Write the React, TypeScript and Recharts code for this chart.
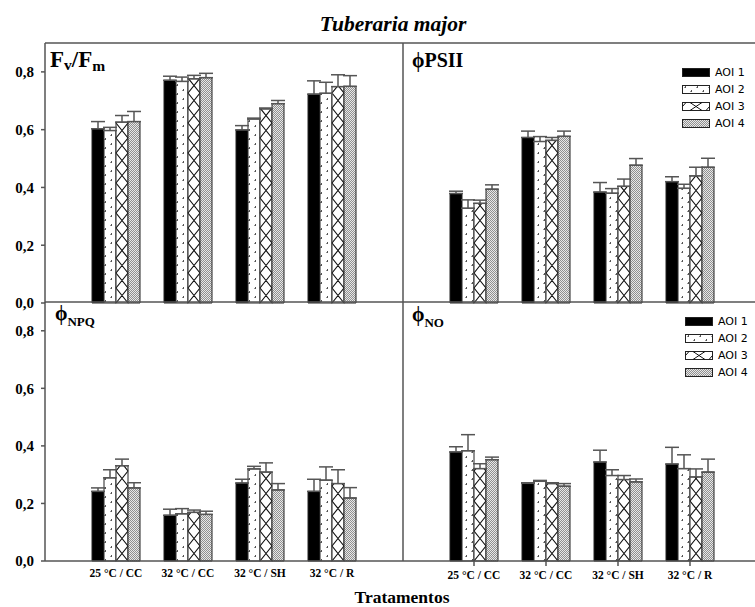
import { Bar, BarChart, ErrorBar, Legend, XAxis, YAxis } from 'recharts';

const SERIF = '"Liberation Serif", "Times New Roman", serif';
const SANS = '"DejaVu Sans", Tahoma, sans-serif';
const LINE = '#555';

const categories = ['25 °C / CC', '32 °C / CC', '32 °C / SH', '32 °C / R'];
const seriesNames = ['AOI 1', 'AOI 2', 'AOI 3', 'AOI 4'];
const yTicks = [0, 0.2, 0.4, 0.6, 0.8];

// rows = AOI 1..4, columns = treatments
const fvfmMeans = [
  [0.603, 0.771, 0.599, 0.723],
  [0.597, 0.767, 0.637, 0.726],
  [0.626, 0.776, 0.672, 0.749],
  [0.628, 0.78, 0.69, 0.75],
];
const fvfmErrors = [
  [0.025, 0.014, 0.015, 0.046],
  [0.011, 0.015, 0.003, 0.038],
  [0.023, 0.012, 0.003, 0.041],
  [0.035, 0.015, 0.011, 0.037],
];

const psiiMeans = [
  [0.379, 0.573, 0.384, 0.42],
  [0.328, 0.559, 0.38, 0.397],
  [0.345, 0.563, 0.404, 0.44],
  [0.394, 0.577, 0.477, 0.47],
];
const psiiErrors = [
  [0.008, 0.022, 0.033, 0.017],
  [0.029, 0.017, 0.016, 0.014],
  [0.011, 0.01, 0.025, 0.03],
  [0.015, 0.018, 0.023, 0.031],
];

const npqMeans = [
  [0.242, 0.159, 0.271, 0.242],
  [0.289, 0.164, 0.32, 0.281],
  [0.331, 0.169, 0.309, 0.269],
  [0.254, 0.162, 0.247, 0.219],
];
const npqErrors = [
  [0.012, 0.021, 0.013, 0.042],
  [0.028, 0.018, 0.009, 0.046],
  [0.023, 0.008, 0.032, 0.048],
  [0.018, 0.011, 0.022, 0.036],
];

const noMeans = [
  [0.379, 0.27, 0.344, 0.337],
  [0.383, 0.277, 0.297, 0.321],
  [0.321, 0.269, 0.283, 0.292],
  [0.352, 0.26, 0.275, 0.309],
];
const noErrors = [
  [0.018, 0.002, 0.041, 0.058],
  [0.056, 0.003, 0.02, 0.048],
  [0.017, 0.003, 0.014, 0.028],
  [0.009, 0.009, 0.01, 0.045],
];

const FILLS = ['#000', 'url(#pat-dots)', '#fff', 'url(#pat-stipple)'];

function buildRows(means: number[][], errors: number[][]) {
  return categories.map((name, i) => {
    const row: any = { name };
    means.forEach((m, s) => {
      row[`v${s}`] = m[i];
      row[`e${s}`] = [0, errors[s][i]];
    });
    return row;
  });
}

function crossPath(x: number, y: number, w: number, h: number, cell: number) {
  let d = '';
  const bottom = y + h;
  for (let yb = bottom; yb > y + 0.01; yb -= cell) {
    const yt = Math.max(y, yb - cell);
    const t = (yb - yt) / cell;
    d += `M${x},${yb}L${x + w * t},${yt}`;
    d += `M${x + w},${yb}L${x + w * (1 - t)},${yt}`;
  }
  return d;
}

const CrossBar = (props: any) => {
  const { x, y, width, height } = props;
  if (!height || height <= 0) return null;
  return (
    <g>
      <rect x={x} y={y} width={width} height={height} fill="#fff" />
      <path d={crossPath(x, y, width, height, width * 1.25)} stroke="#111" strokeWidth={1.2} fill="none" />
      <rect x={x} y={y} width={width} height={height} fill="none" stroke="#222" strokeWidth={1} />
    </g>
  );
};

const PatternDefs = () => (
  <svg width={0} height={0} style={{ position: 'absolute' }}>
    <defs>
      <pattern id="pat-dots" patternUnits="userSpaceOnUse" width={12} height={9}>
        <rect width={12} height={9} fill="#fff" />
        <rect x={3} y={1} width={1} height={2} fill="#555" />
        <rect x={2} y={2} width={1} height={1} fill="#999" />
        <rect x={9} y={5} width={1} height={2} fill="#555" />
        <rect x={8} y={6} width={1} height={1} fill="#999" />
      </pattern>
      <pattern id="pat-stipple" patternUnits="userSpaceOnUse" width={2} height={2}>
        <rect width={2} height={2} fill="#e8e8e8" />
        <rect width={1} height={1} fill="#909090" />
        <rect x={1} y={1} width={1} height={1} fill="#909090" />
      </pattern>
    </defs>
  </svg>
);

const Swatch = ({ idx }: { idx: number }) => {
  if (idx === 2) {
    return (
      <g>
        <rect x={0.5} y={0.5} width={27} height={8} fill="#fff" stroke="#222" />
        <path d="M8,0.5L20,8.5M20,0.5L8,8.5M0.5,4.5L4,0.5M27.5,4.5L24,8.5" stroke="#111" fill="none" />
      </g>
    );
  }
  return <rect x={0.5} y={0.5} width={27} height={8} fill={FILLS[idx]} stroke="#222" />;
};

const LegendBox = () => (
  <div style={{ fontFamily: SANS, fontSize: 11, color: '#000', lineHeight: '17px' }}>
    {seriesNames.map((n, i) => (
      <div key={n} style={{ display: 'flex', alignItems: 'center', height: 17 }}>
        <svg width={29} height={10}>
          <Swatch idx={i} />
        </svg>
        <span style={{ marginLeft: 4 }}>{n}</span>
      </div>
    ))}
  </div>
);

const fmtTick = (v: number) => v.toFixed(1).replace('.', ',');

type PanelProps = {
  left: number;
  top: number;
  width: number;
  height: number;
  bottomMargin?: number;
  means: number[][];
  errors: number[][];
  showY?: boolean;
  showX?: boolean;
  xTickLines?: boolean;
  legendPos?: { left: number; top: number };
};

function Panel({
  left,
  top,
  width,
  height,
  bottomMargin = 0,
  means,
  errors,
  showY,
  showX,
  xTickLines,
  legendPos,
}: PanelProps) {
  const data = buildRows(means, errors);
  return (
    <div style={{ position: 'absolute', left, top }}>
      <BarChart
        width={width}
        height={height}
        data={data}
        margin={{ top: 0, right: 0, bottom: bottomMargin, left: 0 }}
        barCategoryGap={12}
        barGap={0}
      >
        <XAxis
          dataKey="name"
          hide={!showX}
          height={30}
          interval={0}
          padding={{ left: 35, right: 35 }}
          axisLine={{ stroke: LINE, strokeWidth: 1.5 }}
          tickLine={xTickLines ? { stroke: LINE, strokeWidth: 1.5 } : false}
          tickSize={xTickLines ? 5 : 0}
          tickMargin={xTickLines ? 5 : 8}
          tick={{ fontFamily: SERIF, fontWeight: 'bold', fontSize: 11.5, fill: '#000' }}
        />
        <YAxis
          hide={!showY}
          width={45}
          domain={[0, 0.9]}
          ticks={yTicks}
          interval={0}
          tickFormatter={fmtTick}
          axisLine={{ stroke: LINE, strokeWidth: 1.5 }}
          tickLine={{ stroke: LINE, strokeWidth: 1.5 }}
          tickSize={4}
          tickMargin={7}
          tick={{ fontFamily: SERIF, fontWeight: 'bold', fontSize: 15, fill: '#000' }}
        />
        {legendPos && (
          <Legend
            layout="vertical"
            align="center"
            verticalAlign="middle"
            wrapperStyle={{ left: legendPos.left, top: legendPos.top, width: 'auto', height: 'auto' }}
            content={() => <LegendBox />}
          />
        )}
        {seriesNames.map((n, s) => (
          <Bar
            key={n}
            dataKey={`v${s}`}
            name={n}
            fill={FILLS[s]}
            stroke="#222"
            strokeWidth={1}
            isAnimationActive={false}
            shape={s === 2 ? CrossBar : undefined}
          >
            <ErrorBar dataKey={`e${s}`} width={7} stroke={LINE} strokeWidth={1.5} />
          </Bar>
        ))}
      </BarChart>
    </div>
  );
}

const Overlay = () => (
  <svg
    width={755}
    height={607}
    style={{ position: 'absolute', left: 0, top: 0, pointerEvents: 'none' }}
  >
    <g stroke={LINE} strokeWidth={1.5}>
      <line x1={45} y1={43} x2={755} y2={43} />
      <line x1={403} y1={43} x2={403} y2={561} />
      <line x1={45} y1={302} x2={755} y2={302} />
    </g>
    <g fontFamily={SERIF} fontWeight="bold" fill="#000">
      <text x={393} y={31} textAnchor="middle" fontSize={21.5} fontStyle="italic">
        Tuberaria major
      </text>
      <text x={402} y={603} textAnchor="middle" fontSize={17.5}>
        Tratamentos
      </text>
      <text x={50} y={67} fontSize={23}>
        F<tspan fontSize={15.5} dy={3}>v</tspan>
        <tspan dy={-3}>/F</tspan>
        <tspan fontSize={15.5} dy={4}>m</tspan>
      </text>
      <text x={412} y={67} fontSize={20}>
        ϕPSII
      </text>
      <text x={55} y={320} fontSize={20}>
        ϕ<tspan fontSize={13} dy={6}>NPQ</tspan>
      </text>
      <text x={412} y={321} fontSize={20}>
        ϕ<tspan fontSize={13} dy={6}>NO</tspan>
      </text>
    </g>
  </svg>
);

export default function App() {
  return (
    <div
      style={{
        position: 'absolute',
        left: 0,
        top: 0,
        width: 755,
        height: 607,
        overflow: 'hidden',
        background: '#fff',
      }}
    >
      <PatternDefs />
      <Panel
        left={0}
        top={43}
        width={403}
        height={272}
        bottomMargin={12}
        means={fvfmMeans}
        errors={fvfmErrors}
        showY
      />
      <Panel
        left={403}
        top={43}
        width={358}
        height={272}
        bottomMargin={12}
        means={psiiMeans}
        errors={psiiErrors}
        legendPos={{ left: 279, top: 21 }}
      />
      <Panel left={0} top={302} width={403} height={289} means={npqMeans} errors={npqErrors} showY showX />
      <Panel
        left={403}
        top={302}
        width={358}
        height={289}
        means={noMeans}
        errors={noErrors}
        showX
        xTickLines
        legendPos={{ left: 282, top: 11 }}
      />
      <Overlay />
    </div>
  );
}
